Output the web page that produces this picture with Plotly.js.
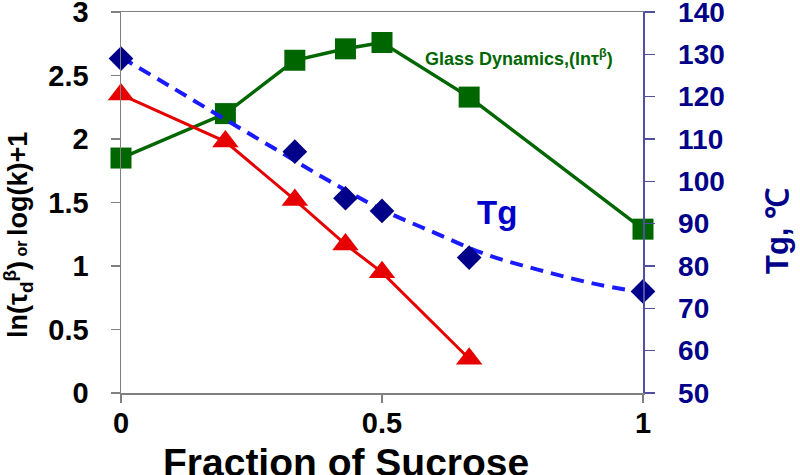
<!DOCTYPE html>
<html>
<head>
<meta charset="utf-8">
<script src="https://cdn.plot.ly/plotly-3.0.1.min.js"></script>
<style>html,body{margin:0;padding:0;background:#fff;}#chart{width:800px;height:475px;}</style>
</head>
<body>
<div id="chart"></div>
<script>
// ---- data ----
const glassFraction = [0, 0.2, 0.333, 0.43, 0.5, 0.667, 1];
const glassDynamics = [1.85, 2.2, 2.62, 2.71, 2.76, 2.33, 1.29];

const tauFraction = [0, 0.2, 0.333, 0.43, 0.5, 0.667];
const lnTauD = [2.35, 1.98, 1.52, 1.17, 0.95, 0.27];

const tgFraction = [0, 0.333, 0.43, 0.5, 0.667, 1];
const tgValues = [129, 107, 96, 93, 82, 74];

const trendFraction = [0, 0.1, 0.2, 0.3, 0.4, 0.5, 0.6, 0.7, 0.8, 0.9, 1];
const tgTrend = [129.3, 122.0, 114.6, 107.3, 100.0, 93.3, 87.9, 82.7, 79.1, 76.0, 73.7];

const xTickVals = [0, 0.5, 1];
const xTickText = ['0', '0.5', '1'];
const yTickVals = [0, 0.5, 1, 1.5, 2, 2.5, 3];
const yTickText = ['0', '0.5', '1', '1.5', '2', '2.5', '3'];
const tgTickVals = [50, 60, 70, 80, 90, 100, 110, 120, 130, 140];

const FONT = 'Liberation Sans, Arial, Helvetica, sans-serif';
const NAVY = '#000088';

const traces = [
  {
    x: glassFraction, y: glassDynamics, type: 'scatter', mode: 'lines+markers',
    line: {color: '#006600', width: 3.5},
    marker: {symbol: 'square', size: 21, color: '#006600'},
    cliponaxis: false, xaxis: 'x', yaxis: 'y', showlegend: false
  },
  {
    x: tauFraction, y: lnTauD, type: 'scatter', mode: 'lines+markers',
    line: {color: '#e60000', width: 3},
    marker: {symbol: 'triangle-up', size: 23, color: '#e60000'},
    cliponaxis: false, xaxis: 'x', yaxis: 'y', showlegend: false
  },
  {
    x: trendFraction, y: tgTrend, type: 'scatter', mode: 'lines',
    line: {color: '#1a1aff', width: 4, dash: '13px,8px', shape: 'spline'},
    cliponaxis: false, xaxis: 'x', yaxis: 'y2', showlegend: false
  },
  {
    x: tgFraction, y: tgValues, type: 'scatter', mode: 'markers',
    marker: {symbol: 'diamond', size: 19, color: NAVY},
    cliponaxis: false, xaxis: 'x', yaxis: 'y2', showlegend: false
  }
];

const layout = {
  width: 800, height: 475,
  margin: {l: 121, r: 157, t: 12, b: 82, pad: 0},
  paper_bgcolor: '#ffffff', plot_bgcolor: '#ffffff',
  font: {family: FONT},
  xaxis: {
    range: [0, 1], tickvals: xTickVals, ticktext: xTickText,
    ticks: 'outside', ticklen: 8, tickwidth: 1.5, tickcolor: '#808080',
    showline: true, linecolor: '#808080', linewidth: 1.5, mirror: true,
    showgrid: false, zeroline: false,
    tickfont: {size: 29, color: '#000', family: FONT, weight: 'bold'},
    ticklabelstandoff: -4, ticklabeloverflow: 'allow'
  },
  yaxis: {
    range: [0, 3], tickvals: yTickVals, ticktext: yTickText,
    ticks: 'outside', ticklen: 9, tickwidth: 1.5, tickcolor: '#808080',
    showline: true, linecolor: '#808080', linewidth: 1.5,
    showgrid: false, zeroline: false,
    tickfont: {size: 29, color: '#000', family: FONT, weight: 'bold'},
    ticklabelstandoff: 16, ticklabeloverflow: 'allow'
  },
  yaxis2: {
    range: [50, 140], tickvals: tgTickVals, overlaying: 'y', side: 'right', anchor: 'x',
    ticks: 'outside', ticklen: 10, tickwidth: 1.5, tickcolor: '#5050a0',
    showline: true, linecolor: '#5050a0', linewidth: 1.5,
    showgrid: false, zeroline: false,
    tickfont: {size: 28, color: NAVY, family: FONT, weight: 'bold'},
    ticklabelstandoff: 18, ticklabeloverflow: 'allow'
  },
  yaxis3: {
    range: [50, 140], tickvals: tgTickVals, overlaying: 'y', side: 'right', anchor: 'x',
    ticks: 'inside', ticklen: 9, tickwidth: 1.5, tickcolor: '#5050a0',
    showline: false, showticklabels: false, showgrid: false, zeroline: false
  },
  annotations: [
    {
      xref: 'paper', yref: 'paper', x: (423 - 121) / 522, y: (393 - 57) / 381,
      xanchor: 'left', yanchor: 'middle', showarrow: false,
      text: 'Glass Dynamics,(ln\u03c4<sup>\u03b2</sup>)',
      font: {size: 18, color: '#006600', family: FONT, weight: 'bold'}
    },
    {
      xref: 'paper', yref: 'paper', x: (497 - 121) / 522, y: (393 - 212) / 381,
      xanchor: 'center', yanchor: 'middle', showarrow: false,
      text: 'Tg',
      font: {size: 33, color: '#0000cc', family: FONT, weight: 'bold'}
    },
    {
      xref: 'paper', yref: 'paper', x: (18 - 121) / 522, y: (393 - 235) / 381,
      xanchor: 'center', yanchor: 'middle', showarrow: false, textangle: -90,
      text: 'ln(\u03c4<sub>d</sub><sup>\u03b2</sup>)<span style="font-size:16px"> or </span>log(k)+1',
      font: {size: 27, color: '#000', family: FONT, weight: 'bold'}
    },
    {
      xref: 'paper', yref: 'paper', x: (777 - 121) / 522, y: (393 - 231) / 381,
      xanchor: 'center', yanchor: 'middle', showarrow: false, textangle: -90,
      text: 'Tg, \u2103',
      font: {size: 31, color: NAVY, family: FONT, weight: 'bold'}
    },
    {
      xref: 'paper', yref: 'paper', x: (346 - 121) / 522, y: (393 - 462) / 381,
      xanchor: 'center', yanchor: 'middle', showarrow: false,
      text: 'Fraction of Sucrose',
      font: {size: 39, color: '#000', family: FONT, weight: 'bold'}
    }
  ]
};

Plotly.newPlot('chart', traces, layout, {staticPlot: true, displayModeBar: false});
</script>
</body>
</html>
